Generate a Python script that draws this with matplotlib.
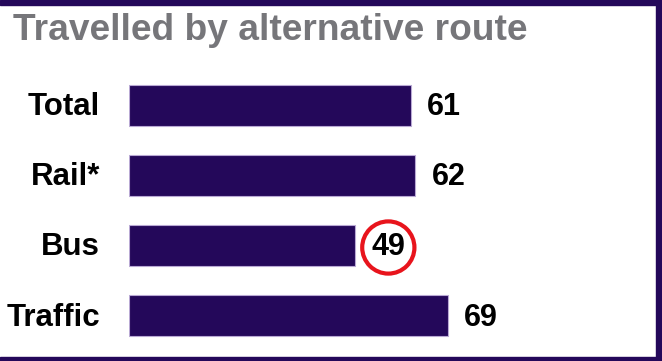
import matplotlib
matplotlib.use("Agg")
import matplotlib.pyplot as plt
from matplotlib.patches import Rectangle

categories = ["Total", "Rail*", "Bus", "Traffic"]
values = [61, 62, 49, 69]
highlight = "Bus"

purple = "#24085a"
plt.rcParams["font.family"] = ["Liberation Sans", "DejaVu Sans"]

W, H = 662, 361
fig = plt.figure(figsize=(W / 100, H / 100), dpi=100)

# axes placed in pixel terms: x from 129 to 591 (0..100), rows 70 px apart
ax = fig.add_axes([129 / W, 1 - 350.5 / H, 462 / W, 280 / H])
pos = list(range(len(categories)))
ax.barh(pos, values, height=0.59, color=purple, edgecolor="#b9a9d4", linewidth=0.8)
ax.set_xlim(0, 100)
ax.set_ylim(len(categories) - 0.5, -0.5)
ax.axis("off")

for y, (cat, v) in enumerate(zip(categories, values)):
    ax.annotate(cat, xy=(0, y), xytext=(-29, -2), textcoords="offset pixels",
                ha="right", va="center", fontsize=22.5, fontweight="bold")
    kw = {}
    if cat == highlight:
        kw["bbox"] = dict(boxstyle="circle,pad=0.3", fc="white", ec="#e8141c", lw=3)
    ax.annotate(str(v), xy=(v, y), xytext=(16, -2), textcoords="offset pixels",
                ha="left", va="center", fontsize=22, fontweight="bold", **kw)

fig.text(13 / W, 1 - 30 / H, "Travelled by alternative route", ha="left", va="center",
         fontsize=26.7, fontweight="bold", color="#76767a")

# frame: top, right and bottom bands
fig.patches.append(Rectangle((0, 1 - 5 / H), 1, 5 / H, transform=fig.transFigure,
                             color=purple, zorder=0))
fig.patches.append(Rectangle((1 - 6 / W, 0), 6 / W, 1, transform=fig.transFigure,
                             color=purple, zorder=0))
fig.patches.append(Rectangle((0, 0), 1, 4 / H, transform=fig.transFigure,
                             color=purple, zorder=0))

fig.savefig("out.png", dpi=100)
